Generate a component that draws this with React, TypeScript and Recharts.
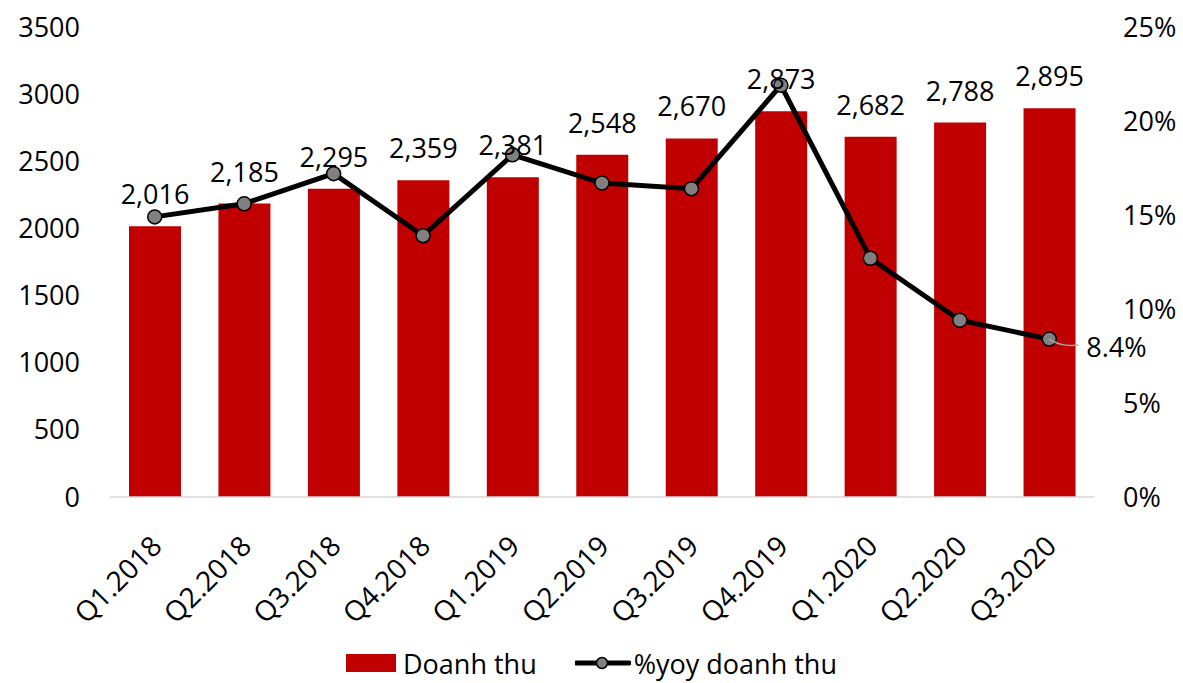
import React from "react";
import {
  ComposedChart,
  Bar,
  Line,
  XAxis,
  YAxis,
  Legend,
  LabelList,
} from "recharts";

const categories = [
  "Q1.2018", "Q2.2018", "Q3.2018", "Q4.2018", "Q1.2019", "Q2.2019",
  "Q3.2019", "Q4.2019", "Q1.2020", "Q2.2020", "Q3.2020",
];
const revenue = [2016, 2185, 2295, 2359, 2381, 2548, 2670, 2873, 2682, 2788, 2895];
const yoyPct = [14.9, 15.6, 17.2, 13.9, 18.2, 16.7, 16.4, 21.9, 12.7, 9.4, 8.4];
const leftTicks = [0, 500, 1000, 1500, 2000, 2500, 3000, 3500];
const rightTicks = [0, 5, 10, 15, 20, 25];

const data = categories.map((c, i) => ({ name: c, rev: revenue[i], yoy: yoyPct[i] }));

const FONT = "'Open Sans', Lato, sans-serif";
const FS = 27;
const RED = "#C00000";

const XTick = (props: any) => {
  const { x, y, payload } = props;
  return (
    <g transform={`translate(${x - 5},${y + 29})`}>
      <text
        transform="rotate(-45)"
        textAnchor="end"
        dy="0.7em"
        fontSize={FS + 1}
        fontFamily={FONT}
        fill="#000"
      >
        {payload.value}
      </text>
    </g>
  );
};

const LastLabel = (props: any) => {
  const { x, y, index, value } = props;
  if (index !== yoyPct.length - 1) return null;
  return (
    <g>
      <path
        d={`M${x},${y} Q${x + 12},${y + 8} ${x + 29},${y + 6}`}
        stroke="#A6A6A6"
        strokeWidth={1.5}
        fill="none"
      />
      <text x={x + 37} y={y + 8} dy="0.35em" fontSize={FS} fontFamily={FONT} fill="#000">
        {`${value}%`}
      </text>
    </g>
  );
};

const LegendContent = () => (
  <div
    style={{
      display: "flex",
      alignItems: "center",
      justifyContent: "center",
      fontFamily: FONT,
      fontSize: FS,
      height: 40,
      color: "#000",
      paddingTop: 10,
    }}
  >
    <svg width={52} height={20} style={{ marginLeft: 0, marginRight: 5 }}>
      <rect x={0} y={1} width={50} height={18} fill={RED} />
    </svg>
    <span>Doanh thu</span>
    <svg width={56} height={20} style={{ marginLeft: 38, marginRight: 3 }}>
      <line x1={1} y1={10} x2={54} y2={10} stroke="#000" strokeWidth={5} strokeLinecap="round" />
      <circle cx={27} cy={10} r={5.5} fill="#808080" stroke="#000" strokeWidth={1.5} />
    </svg>
    <span>%yoy doanh thu</span>
  </div>
);

export default function App() {
  return (
    <div style={{ position: "absolute", left: 0, top: 0, width: 1183, height: 683, background: "#fff" }}>
      <ComposedChart
        width={1183}
        height={683}
        data={data}
        margin={{ top: 27, right: 0, left: 0, bottom: 0 }}
      >
        <XAxis
          dataKey="name"
          xAxisId="x"
          height={136}
          tick={<XTick />}
          tickLine={false}
          axisLine={{ stroke: "#D9D9D9", strokeWidth: 1.5 }}
          interval={0}
        />
        <YAxis
          yAxisId="left"
          orientation="left"
          width={110}
          domain={[0, 3500]}
          ticks={leftTicks}
          tickLine={false}
          axisLine={false}
          tickSize={0}
          tickMargin={30}
          tick={{ fontSize: FS, fontFamily: FONT, fill: "#000" }}
          interval={0}
        />
        <YAxis
          yAxisId="right"
          orientation="right"
          width={89}
          domain={[0, 25]}
          ticks={rightTicks}
          tickLine={false}
          axisLine={false}
          tickSize={0}
          tickMargin={29}
          tickFormatter={(v: number) => `${v}%`}
          tick={{ fontSize: FS, fontFamily: FONT, fill: "#000", textAnchor: "start" }}
          interval={0}
        />
        <Legend
          verticalAlign="bottom"
          content={<LegendContent />}
          wrapperStyle={{ left: 0, width: 1183, bottom: 0 }}
        />
        <Bar
          xAxisId="x"
          yAxisId="left"
          dataKey="rev"
          name="Doanh thu"
          fill={RED}
          barSize={52}
          isAnimationActive={false}
        >
          <LabelList
            dataKey="rev"
            position="top"
            offset={22}
            formatter={(v: number) => v.toLocaleString("en-US")}
            style={{ fontSize: FS, fontFamily: FONT, fill: "#000" }}
          />
        </Bar>
        <Line
          xAxisId="x"
          yAxisId="right"
          dataKey="yoy"
          name="%yoy doanh thu"
          stroke="#000"
          strokeWidth={5}
          dot={{ r: 7, fill: "#808080", stroke: "#000", strokeWidth: 1.5 }}
          isAnimationActive={false}
        >
          <LabelList dataKey="yoy" content={<LastLabel />} />
        </Line>
      </ComposedChart>
    </div>
  );
}
